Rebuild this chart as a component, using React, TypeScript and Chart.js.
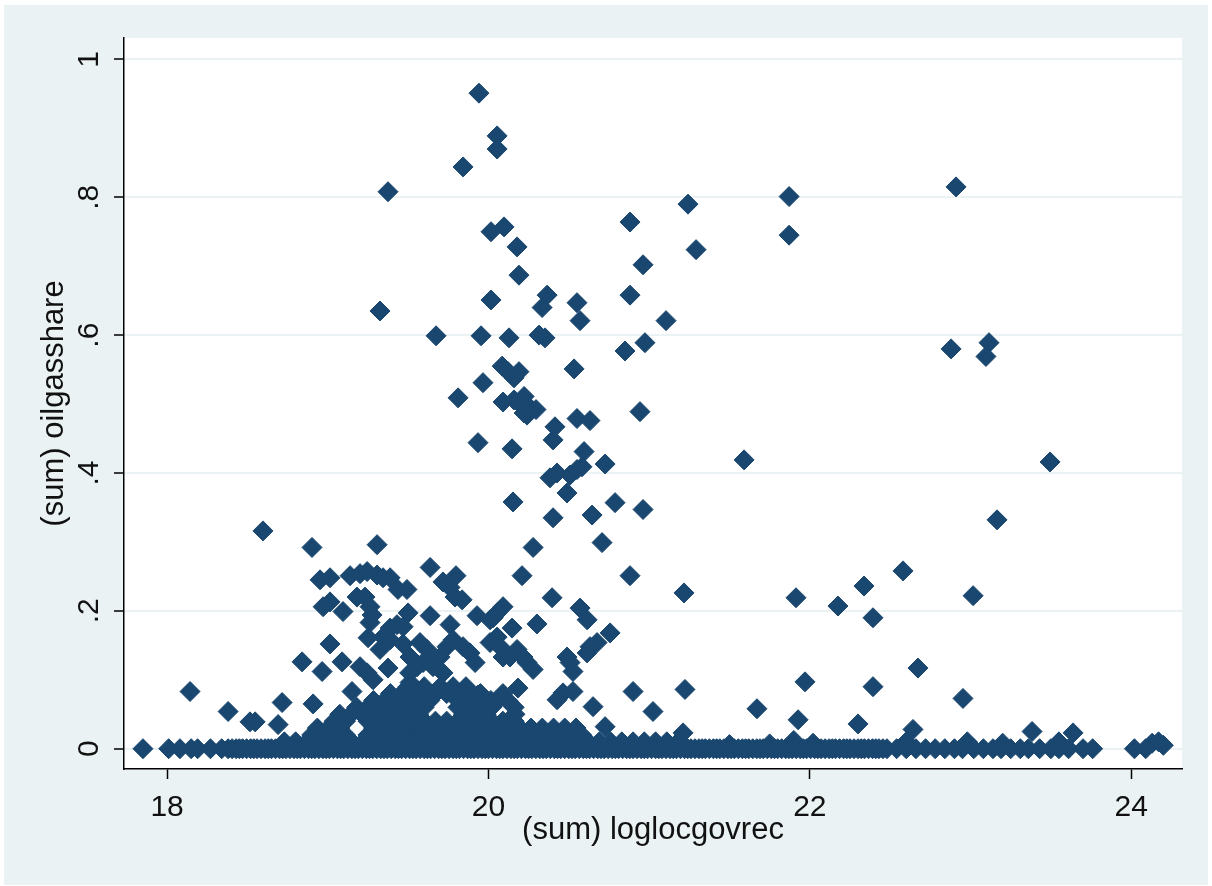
import React, { useEffect, useRef } from "react";
import { Chart, registerables } from "chart.js";

Chart.register(...registerables);

// ---------- axis ticks ----------
const xTickValues = [18, 20, 22, 24];
const xTickLabels = ["18", "20", "22", "24"];
const yTickValues = [0, 0.2, 0.4, 0.6, 0.8, 1];
const yTickLabels = ["0", ".2", ".4", ".6", ".8", "1"];
const xTitle = "(sum) loglocgovrec";
const yTitle = "(sum) oilgasshare";

// ---------- scattered points [loglocgovrec, oilgasshare] ----------
const upperPoints: number[][] = [
  [19.941, 0.951], [20.054, 0.889], [20.054, 0.870], [19.842, 0.844], [19.375, 0.808],
  [22.910, 0.815], [21.871, 0.801], [21.871, 0.745], [21.242, 0.790], [21.292, 0.724],
  [20.881, 0.764], [20.962, 0.702], [20.097, 0.757], [20.016, 0.750], [20.178, 0.728],
  [20.190, 0.687], [19.325, 0.635], [19.674, 0.599], [20.016, 0.651], [20.365, 0.658],
  [20.334, 0.640], [20.352, 0.596], [20.315, 0.600], [20.128, 0.596], [19.954, 0.599],
  [20.551, 0.647], [20.570, 0.621], [21.105, 0.621], [20.881, 0.658], [20.974, 0.589],
  [20.850, 0.577], [22.879, 0.580], [23.115, 0.589], [23.096, 0.569],
];

const midPoints: number[][] = [
  [20.533, 0.551], [19.966, 0.531], [19.811, 0.509], [20.085, 0.555], [20.122, 0.547],
  [20.159, 0.538], [20.190, 0.547], [20.091, 0.503], [20.159, 0.506], [20.197, 0.500],
  [20.222, 0.511], [20.240, 0.484], [20.265, 0.493], [20.296, 0.492], [20.222, 0.487],
  [20.414, 0.467], [20.402, 0.448], [20.147, 0.435], [19.935, 0.444], [20.551, 0.479],
  [20.632, 0.476], [20.595, 0.431], [20.943, 0.489], [20.726, 0.413], [21.591, 0.419],
  [23.495, 0.416], [20.427, 0.400], [20.508, 0.397], [20.551, 0.405], [20.582, 0.409],
  [20.383, 0.393], [20.489, 0.371], [20.153, 0.358], [20.402, 0.335], [20.645, 0.339],
  [20.788, 0.357], [20.962, 0.347], [23.165, 0.332], [18.597, 0.316], [18.902, 0.292],
  [19.307, 0.296], [20.278, 0.292], [20.707, 0.299], [20.209, 0.251], [20.881, 0.251],
  [22.580, 0.258], [22.337, 0.236], [22.393, 0.190], [23.016, 0.222], [21.914, 0.219],
  [22.175, 0.207], [21.217, 0.226], [20.396, 0.219], [20.570, 0.204], [20.614, 0.187],
  [20.757, 0.168], [20.676, 0.154], [20.632, 0.148], [20.614, 0.139],
];

const lowPoints: number[][] = [
  [22.673, 0.117], [22.393, 0.090], [21.970, 0.097], [22.953, 0.073], [21.223, 0.086],
  [20.900, 0.083], [21.024, 0.054], [21.671, 0.058], [21.927, 0.042], [22.300, 0.036],
  [18.143, 0.083], [18.380, 0.054], [18.516, 0.039], [18.548, 0.039], [18.716, 0.067],
  [18.909, 0.065], [18.691, 0.035], [20.651, 0.061], [20.726, 0.032], [20.184, 0.088],
  [20.427, 0.071], [20.464, 0.081], [20.526, 0.083], [22.642, 0.028], [23.383, 0.025],
  [23.638, 0.023], [21.211, 0.023], [24.13, 0.008], [24.17, 0.010], [24.20, 0.005],
  [22.98, 0.010], [23.20, 0.008], [23.55, 0.010], [21.90, 0.012], [22.02, 0.008],
  [21.50, 0.006], [21.75, 0.007], [22.60, 0.010], [20.09, 0.080], [20.06, 0.070],
  [19.935, 0.078],
];

const clusterPoints: number[][] = [
  [19.637, 0.263], [19.798, 0.251], [19.717, 0.242], [19.761, 0.234], [19.792, 0.220],
  [19.836, 0.216], [18.952, 0.245], [19.014, 0.248], [19.139, 0.251], [19.201, 0.254],
  [19.245, 0.257], [19.307, 0.252], [19.344, 0.248], [19.388, 0.248], [19.437, 0.231],
  [19.493, 0.231], [19.182, 0.220], [19.232, 0.220], [18.971, 0.206], [19.014, 0.213],
  [19.095, 0.199], [19.263, 0.206], [19.276, 0.194], [19.263, 0.183], [19.500, 0.197],
  [19.637, 0.193], [19.761, 0.180], [19.929, 0.193], [20.029, 0.190], [20.010, 0.187],
  [20.054, 0.197], [20.091, 0.206], [20.147, 0.175], [20.302, 0.181], [19.388, 0.175],
  [19.431, 0.180], [19.469, 0.177], [19.344, 0.162], [19.388, 0.158], [19.325, 0.144],
  [19.251, 0.161], [19.014, 0.152], [19.469, 0.152], [19.574, 0.154], [19.618, 0.144],
  [19.655, 0.133], [19.699, 0.133], [19.742, 0.148], [19.780, 0.158], [19.842, 0.148],
  [19.885, 0.139], [19.917, 0.125], [20.010, 0.154], [20.054, 0.162], [20.072, 0.148],
  [20.091, 0.133], [20.134, 0.133], [20.178, 0.144], [20.215, 0.133], [20.240, 0.125],
  [20.278, 0.115], [20.489, 0.133], [20.508, 0.125], [20.526, 0.112], [18.840, 0.126],
  [18.965, 0.112], [19.089, 0.126], [19.201, 0.119], [19.245, 0.110], [19.282, 0.100],
  [19.375, 0.117], [19.512, 0.133], [19.556, 0.119], [19.593, 0.125], [19.655, 0.119],
  [19.717, 0.110], [19.512, 0.096], [19.151, 0.083], [19.51, 0.110],
];

// ---------- observations with oilgasshare of zero ----------
const zeroShareValue = 0;
const zeroShareX = [
  17.85, 18.01, 18.08, 18.15, 18.19, 18.27, 18.34, 18.38, 18.43, 18.47, 18.52, 18.56,
  18.61, 18.65, 18.70, 18.74, 18.79, 18.83, 18.88, 18.92, 18.97, 19.01, 19.06, 19.10,
  19.15, 19.19, 19.24, 19.28, 19.33, 19.37, 19.42, 19.46, 19.51, 19.55, 19.60, 19.64,
  19.69, 19.73, 19.78, 19.82, 19.87, 19.91, 19.96, 20.00, 20.05, 20.09, 20.14, 20.18,
  20.23, 20.27, 20.32, 20.36, 20.41, 20.45, 20.50, 20.54, 20.59, 20.63, 20.68, 20.72,
  20.77, 20.81, 20.86, 20.90, 20.95, 20.99, 21.04, 21.08, 21.13, 21.17, 21.22, 21.26,
  21.31, 21.35, 21.40, 21.44, 21.49, 21.53, 21.58, 21.62, 21.67, 21.71, 21.76, 21.80,
  21.85, 21.89, 21.94, 21.98, 22.03, 22.07, 22.12, 22.16, 22.21, 22.25, 22.30, 22.34,
  22.39, 22.43, 22.48, 22.54, 22.60, 22.66, 22.72, 22.78, 22.84, 22.90, 22.95, 23.02,
  23.08, 23.14, 23.19, 23.25, 23.31, 23.36, 23.43, 23.50, 23.55, 23.61, 23.70, 23.76,
  24.02, 24.09,
];
const zeroShareX2 = [
  18.405, 18.45, 18.495, 18.54, 18.585, 18.63, 18.675, 18.72, 18.765, 18.81, 18.855,
  18.90, 18.945, 18.99, 19.035, 19.08, 19.125, 19.17, 19.215, 19.26, 19.305, 19.35,
  19.395, 19.44, 19.485, 19.53, 19.575, 19.62, 19.665, 19.71, 19.755, 19.80, 19.845,
  19.89, 19.935, 19.98, 20.025, 20.07, 20.115, 20.16, 20.205, 20.25, 20.295, 20.34,
  20.385, 20.43, 20.475, 20.52, 20.565, 20.61, 20.655, 20.70, 20.745, 20.79, 20.835,
  20.88, 20.925, 20.97, 21.015, 21.06, 21.105, 21.15, 21.195, 21.24, 21.285, 21.33,
  21.375, 21.42, 21.465, 21.51, 21.555, 21.60, 21.645, 21.69, 21.735, 21.78, 21.825,
  21.87, 21.915, 21.96, 22.005, 22.05, 22.095, 22.14, 22.185, 22.23, 22.275, 22.32,
  22.365, 22.41, 22.455,
];

// ---------- dense band of small shares (rows by share level) ----------
const denseRowY = [0.01, 0.02, 0.03, 0.04, 0.05, 0.06, 0.07, 0.08, 0.09];
const denseRow1 = [
  18.73, 18.80, 18.87, 18.94, 19.01, 19.08, 19.15, 19.22, 19.29, 19.36, 19.43, 19.50,
  19.57, 19.64, 19.71, 19.78, 19.85, 19.92, 19.99, 20.06, 20.13, 20.20, 20.27, 20.34,
  20.41, 20.48, 20.55, 20.62, 20.69, 20.76, 20.83, 20.90, 20.97, 21.04, 21.11, 21.18,
];
const denseRow2 = [
  18.90, 18.97, 19.04, 19.11, 19.25, 19.32, 19.39, 19.46, 19.53, 19.60, 19.67, 19.74,
  19.81, 19.88, 19.95, 20.02, 20.09, 20.16, 20.23, 20.30, 20.37, 20.44, 20.51, 20.58,
];
const denseRow3 = [
  18.935, 19.005, 19.075, 19.285, 19.355, 19.425, 19.495, 19.565, 19.635, 19.705,
  19.775, 19.845, 19.915, 19.985, 20.055, 20.125, 20.195, 20.265, 20.335, 20.405,
  20.475, 20.545,
];
const denseRow4 = [
  19.04, 19.11, 19.25, 19.32, 19.39, 19.46, 19.53, 19.60, 19.67, 19.74, 19.81, 19.88,
  19.95, 20.02, 20.09, 20.16,
];
const denseRow5 = [
  19.075, 19.145, 19.215, 19.285, 19.355, 19.425, 19.495, 19.565, 19.845, 19.915,
  19.985, 20.165,
];
const denseRow6 = [19.18, 19.25, 19.32, 19.39, 19.46, 19.53, 19.60, 19.81, 19.88, 19.95, 20.02, 20.16];
const denseRow7 = [19.285, 19.355, 19.425, 19.495, 19.565, 19.635, 19.81, 19.875, 19.945, 20.015, 20.12];
const denseRow8 = [19.39, 19.46, 19.53, 19.60, 19.67, 19.74, 19.81, 19.88, 19.95];
const denseRow9 = [19.50, 19.60, 19.70, 19.78, 19.86];
const denseRows = [denseRow1, denseRow2, denseRow3, denseRow4, denseRow5, denseRow6, denseRow7, denseRow8, denseRow9];

const MARKER = "#1A476F";
const FONT = '"Liberation Sans", Arial, sans-serif';

export default function App() {
  const ref = useRef<HTMLCanvasElement | null>(null);

  useEffect(() => {
    document.body.style.margin = "0";
    document.body.style.overflow = "hidden";
    const canvas = ref.current;
    if (!canvas) return;

    const data: { x: number; y: number }[] = [];
    [upperPoints, midPoints, lowPoints, clusterPoints].forEach((g) =>
      g.forEach(([x, y]) => data.push({ x, y }))
    );
    zeroShareX.forEach((x) => data.push({ x, y: zeroShareValue }));
    zeroShareX2.forEach((x) => data.push({ x, y: zeroShareValue }));
    denseRows.forEach((row, i) => row.forEach((x) => data.push({ x, y: denseRowY[i] })));

    const decor = {
      id: "stataDecor",
      beforeDraw(chart: any) {
        const { ctx, chartArea: a } = chart;
        ctx.save();
        ctx.fillStyle = "#ffffff";
        ctx.fillRect(0, 0, chart.width, chart.height);
        ctx.fillStyle = "#EAF2F3";
        ctx.fillRect(4, 5, 1204, 880);
        ctx.fillStyle = "#ffffff";
        ctx.fillRect(a.left, a.top, a.right - a.left, a.bottom - a.top);
        ctx.restore();
      },
      afterDraw(chart: any) {
        const { ctx, chartArea: a } = chart;
        const xs = chart.scales.x;
        const ys = chart.scales.y;
        ctx.save();
        ctx.fillStyle = "#111111";
        ctx.font = `30px ${FONT}`;
        ctx.textAlign = "center";
        ctx.textBaseline = "alphabetic";
        xTickValues.forEach((v, i) => {
          ctx.fillText(xTickLabels[i], xs.getPixelForValue(v), 816);
        });
        yTickValues.forEach((v, i) => {
          ctx.save();
          ctx.translate(97.5, ys.getPixelForValue(v));
          ctx.rotate(-Math.PI / 2);
          ctx.fillText(yTickLabels[i], 0, 0);
          ctx.restore();
        });
        ctx.font = `31px ${FONT}`;
        ctx.fillText(xTitle, (a.left + a.right) / 2, 839);
        ctx.save();
        ctx.translate(63, (a.top + a.bottom) / 2);
        ctx.rotate(-Math.PI / 2);
        ctx.fillText(yTitle, 0, 0);
        ctx.restore();
        ctx.restore();
      },
    };

    const chart = new Chart(canvas, {
      type: "scatter",
      data: {
        datasets: [
          {
            data,
            pointStyle: "rectRot",
            pointRadius: 10,
            pointHoverRadius: 10,
            borderWidth: 1,
            backgroundColor: MARKER,
            borderColor: MARKER,
          },
        ],
      },
      options: {
        responsive: false,
        animation: false,
        events: [],
        devicePixelRatio: 1,
        layout: { padding: { left: 0, top: 38, right: 30, bottom: 0 } },
        plugins: { legend: { display: false }, tooltip: { enabled: false } },
        scales: {
          x: {
            type: "linear",
            min: 17.732,
            max: 24.316,
            afterBuildTicks: (s: any) => {
              s.ticks = xTickValues.map((v) => ({ value: v }));
            },
            afterFit: (s: any) => {
              s.height = 117;
            },
            ticks: { display: false },
            grid: {
              drawOnChartArea: false,
              drawTicks: true,
              tickLength: 10,
              tickColor: "#000000",
              tickWidth: 1.5,
            },
            border: { display: true, color: "#000000", width: 1.5 },
          },
          y: {
            type: "linear",
            min: -0.0294,
            max: 1.031,
            afterBuildTicks: (s: any) => {
              s.ticks = yTickValues.map((v) => ({ value: v }));
            },
            afterFit: (s: any) => {
              s.width = 124;
            },
            ticks: { display: false },
            grid: {
              drawOnChartArea: true,
              color: "#EAF2F3",
              lineWidth: 2,
              drawTicks: true,
              tickLength: 10,
              tickColor: "#000000",
              tickWidth: 1.5,
            },
            border: { display: true, color: "#000000", width: 1.5 },
          },
        },
      },
      plugins: [decor],
    });

    return () => chart.destroy();
  }, []);

  return (
    <canvas
      ref={ref}
      width={1212}
      height={886}
      style={{ display: "block", width: 1212, height: 886 }}
    />
  );
}
